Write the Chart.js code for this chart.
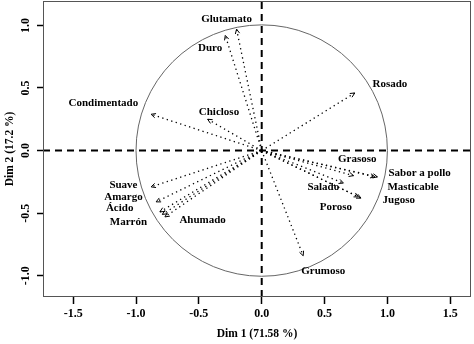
<!DOCTYPE html>
<html>
<head>
<meta charset="utf-8">
<script src="https://cdn.jsdelivr.net/npm/chart.js@4"></script>
<style>
  html, body { margin: 0; padding: 0; background: #fff; }
  #wrap { width: 474px; height: 344px; }
</style>
</head>
<body>
<div id="wrap"><canvas id="pcaChart"></canvas></div>
<script>
// variables del círculo de correlaciones
const variables = ['Glutamato', 'Duro', 'Condimentado', 'Chicloso', 'Rosado', 'Grasoso',
  'Sabor a pollo', 'Masticable', 'Jugoso', 'Salado', 'Poroso', 'Grumoso',
  'Suave', 'Amargo', 'Ácido', 'Marrón', 'Ahumado'];
const dim1 = [-0.20, -0.29, -0.88, -0.43, 0.74, 0.73, 0.92, 0.90, 0.79, 0.65, 0.77, 0.33,
  -0.88, -0.84, -0.81, -0.79, -0.77];
const dim2 = [0.97, 0.92, 0.29, 0.25, 0.46, -0.20, -0.21, -0.21, -0.38, -0.26, -0.37, -0.84,
  -0.29, -0.41, -0.49, -0.51, -0.53];
// donde va cada etiqueta (en unidades de los ejes)
const labelX = [-0.28, -0.41, -1.26, -0.34, 1.02, 0.76, 1.256, 1.204, 1.09, 0.49, 0.59, 0.49,
  -1.10, -1.10, -1.13, -1.06, -0.47];
const labelY = [1.05, 0.82, 0.375, 0.31, 0.53, -0.07, -0.183, -0.295, -0.40, -0.29, -0.45, -0.96,
  -0.28, -0.37, -0.46, -0.57, -0.56];
const xTicks = [-1.5, -1.0, -0.5, 0.0, 0.5, 1.0, 1.5];
const yTicks = [-1.0, -0.5, 0.0, 0.5, 1.0];
const xTitle = 'Dim 1 (71.58 %)';
const yTitle = 'Dim 2 (17.2 %)';

const FONT = 'Liberation Serif';

// flechas punteadas desde el origen
const datasets = variables.map((v, i) => ({
  label: v,
  data: [{ x: 0, y: 0 }, { x: dim1[i], y: dim2[i] }],
  borderColor: '#000',
  borderWidth: 1.3,
  borderDash: [1.3, 3.4],
  pointRadius: 0,
  fill: false
}));

const pcaPlugin = {
  id: 'pcaExtras',
  beforeDatasetsDraw(chart) {
    const { ctx, chartArea: a, scales: { x, y } } = chart;
    const x0 = x.getPixelForValue(0), y0 = y.getPixelForValue(0);
    ctx.save();
    // círculo unitario
    ctx.strokeStyle = '#666';
    ctx.lineWidth = 1;
    ctx.beginPath();
    ctx.arc(x0, y0, x.getPixelForValue(1) - x0, 0, Math.PI * 2);
    ctx.stroke();
    // ejes discontinuos
    ctx.strokeStyle = '#000';
    ctx.lineWidth = 2;
    ctx.setLineDash([7, 5]);
    ctx.beginPath();
    ctx.moveTo(a.left, y0); ctx.lineTo(a.right, y0);
    ctx.moveTo(x0, a.bottom); ctx.lineTo(x0, a.top);
    ctx.stroke();
    ctx.restore();
  },
  afterDatasetsDraw(chart) {
    const { ctx, chartArea: a, scales: { x, y } } = chart;
    ctx.save();
    // puntas de flecha
    ctx.strokeStyle = '#000';
    ctx.lineWidth = 1;
    chart.data.datasets.forEach((ds, i) => {
      const pts = chart.getDatasetMeta(i).data;
      const p0 = pts[0], p1 = pts[1];
      const ang = Math.atan2(p1.y - p0.y, p1.x - p0.x);
      const len = 5;
      ctx.beginPath();
      ctx.moveTo(p1.x - len * Math.cos(ang - 0.45), p1.y - len * Math.sin(ang - 0.45));
      ctx.lineTo(p1.x, p1.y);
      ctx.lineTo(p1.x - len * Math.cos(ang + 0.45), p1.y - len * Math.sin(ang + 0.45));
      ctx.stroke();
    });
    // etiquetas
    ctx.fillStyle = '#000';
    ctx.font = 'bold 11px "' + FONT + '"';
    ctx.textAlign = 'center';
    ctx.textBaseline = 'middle';
    variables.forEach((v, i) => {
      ctx.fillText(v, x.getPixelForValue(labelX[i]), y.getPixelForValue(labelY[i]));
    });
    // marco
    ctx.strokeStyle = '#555';
    ctx.lineWidth = 1;
    ctx.strokeRect(a.left + 0.5, a.top + 0.5, a.right - a.left - 1, a.bottom - a.top - 1);
    // etiquetas del eje y giradas (estilo R)
    ctx.font = 'bold 12px "' + FONT + '"';
    yTicks.forEach(t => {
      const py = y.getPixelForValue(t);
      ctx.save();
      ctx.translate(26, py);
      ctx.rotate(-Math.PI / 2);
      ctx.fillText(t.toFixed(1), 0, 0);
      ctx.restore();
    });
    ctx.restore();
  }
};

new Chart(document.getElementById('pcaChart'), {
  type: 'line',
  data: { datasets },
  options: {
    responsive: true,
    maintainAspectRatio: false,
    animation: false,
    parsing: false,
    layout: { padding: { top: 1, right: 3, bottom: 0, left: 0 } },
    plugins: { legend: { display: false }, tooltip: { enabled: false } },
    scales: {
      x: {
        type: 'linear',
        min: -1.74,
        max: 1.665,
        afterBuildTicks: s => { s.ticks = xTicks.map(v => ({ value: v })); },
        afterFit: s => { s.height = 47; },
        grid: { drawOnChartArea: false, tickLength: 7, tickColor: '#000', tickWidth: 1.5 },
        border: { display: false },
        ticks: {
          color: '#000',
          padding: 3,
          maxRotation: 0,
          font: { family: FONT, size: 12, weight: 'bold' },
          callback: v => Number(v).toFixed(1)
        },
        title: {
          display: true,
          text: xTitle,
          color: '#000',
          padding: { top: 2, bottom: 3 },
          font: { family: FONT, size: 11.5, weight: 'bold' }
        }
      },
      y: {
        type: 'linear',
        min: -1.17,
        max: 1.195,
        afterBuildTicks: s => { s.ticks = yTicks.map(v => ({ value: v })); },
        afterFit: s => { s.width = 43; },
        grid: { drawOnChartArea: false, tickLength: 6, tickColor: '#000', tickWidth: 1.5 },
        border: { display: false },
        ticks: { display: false },
        title: {
          display: true,
          text: yTitle,
          color: '#000',
          padding: { top: 3, bottom: 3 },
          font: { family: FONT, size: 11.5, weight: 'bold' }
        }
      }
    }
  },
  plugins: [pcaPlugin]
});
</script>
</body>
</html>
